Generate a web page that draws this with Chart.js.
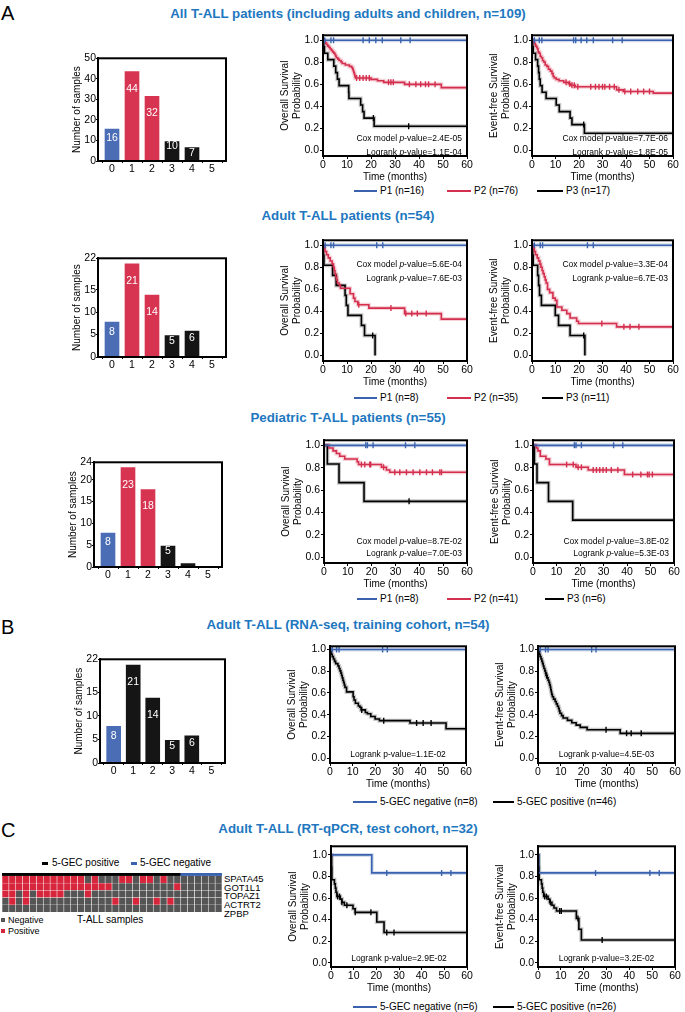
<!DOCTYPE html>
<html>
<head>
<meta charset="utf-8">
<script src="https://cdn.jsdelivr.net/npm/chart.js@4.4.1/dist/chart.umd.min.js"></script>
<style>
  body { margin: 0; background: #fff; }
  #fig { position: relative; width: 685px; height: 1012px; overflow: hidden; font-family: "Liberation Sans", Arial, sans-serif; color: #000; }
  .cv { position: absolute; }
  .ttl { position: absolute; left: 0; width: 696px; text-align: center; font-weight: bold; font-size: 13.3px; line-height: 16px; color: #1e77bf; }
  .letter { position: absolute; left: 1px; font-size: 20px; line-height: 22px; }
  .lg { position: absolute; font-size: 10px; line-height: 12px; white-space: nowrap; }
  .ln { position: absolute; height: 2px; }
  .sq { position: absolute; width: 4px; height: 4px; }
  .gene { position: absolute; left: 224px; font-size: 9.5px; line-height: 8.7px; white-space: nowrap; }
</style>
</head>
<body>
<div id="fig">
  <div class="letter" style="top:2px">A</div>
  <div class="letter" style="top:616px">B</div>
  <div class="letter" style="top:819px">C</div>
  <div class="ttl" style="top:6px">All T-ALL patients (including adults and children, n=109)</div>
  <div class="ttl" style="top:208px">Adult T-ALL patients (n=54)</div>
  <div class="ttl" style="top:410px">Pediatric T-ALL patients (n=55)</div>
  <div class="ttl" style="top:617px">Adult T-ALL (RNA-seq, training cohort, n=54)</div>
  <div class="ttl" style="top:821px">Adult T-ALL (RT-qPCR, test cohort, n=32)</div>
</div>
<script>
// ---- bar charts: number of samples per score ----
const scoreLabels = [0, 1, 2, 3, 4, 5];
const countsAll = [16, 44, 32, 10, 7, 0];
const countsAdult = [8, 21, 14, 5, 6, 0];
const countsPed = [8, 23, 18, 5, 1, 0];
const countsTrain = [8, 21, 14, 5, 6, 0];

const yTicksKM = [0, 0.2, 0.4, 0.6, 0.8, 1.0];

// ---- survival curves: [time (months), survival] ----
const allOsP1 = [[0, 1]];
const allOsP1Cens = [0.7, 3.3, 4.4, 16.7, 19.3, 22, 24.7, 32.4, 36.3];
const allOsP2 = [[0, 1], [0.5, 0.987], [1, 0.974], [1.5, 0.961], [2, 0.947], [2.5, 0.934], [3, 0.921], [3.5, 0.908], [4, 0.895], [4.5, 0.882], [5, 0.868], [5.3, 0.855], [5.6, 0.842], [6.2, 0.829], [6.7, 0.816], [7.5, 0.803], [8, 0.789], [9.3, 0.776], [11, 0.763], [12, 0.75], [12.4, 0.737], [12.6, 0.724], [12.8, 0.71], [13, 0.697], [13.2, 0.684], [13.3, 0.671], [13.5, 0.658], [20, 0.645], [22.7, 0.632], [25.3, 0.618], [34, 0.6], [49.3, 0.57]];
const allOsP2Cens = [14, 15.3, 16.7, 18, 19.3, 27.3, 28.3, 29.3, 36, 38.7, 40.7, 42.7, 44, 46.7];
const allOsP3 = [[0, 1], [0.3, 0.941], [0.6, 0.882], [2, 0.824], [4.5, 0.765], [5.3, 0.706], [6, 0.647], [6.7, 0.588], [10.7, 0.529], [10.8, 0.471], [15.7, 0.412], [16.5, 0.353], [17.1, 0.294], [21.3, 0.22]];
const allOsP3Cens = [21, 35.7];

const allEfsP1 = [[0, 1]];
const allEfsP1Cens = [1, 3.1, 4.2, 17.7, 18.6, 20.9, 23.3, 26.1, 34.3, 38.4];
const allEfsP2 = [[0, 1], [0.5, 0.987], [1, 0.974], [1.3, 0.961], [1.6, 0.947], [2, 0.934], [2.3, 0.921], [2.6, 0.895], [3, 0.882], [3.5, 0.855], [4, 0.842], [4.5, 0.816], [5, 0.803], [5.6, 0.776], [6.3, 0.763], [7, 0.737], [7.8, 0.72], [8.5, 0.697], [9, 0.671], [9.5, 0.658], [10.3, 0.645], [11.5, 0.632], [13.5, 0.618], [15.5, 0.605], [16.5, 0.592], [18.4, 0.578], [36, 0.55], [38.8, 0.535], [51.6, 0.52]];
const allEfsP2Cens = [14.5, 16, 17, 18, 19.5, 25, 27, 28.5, 30, 31, 33, 35, 37, 39.5, 42, 45, 47.5, 50];
const allEfsP3 = [[0, 1], [0.3, 0.941], [0.5, 0.882], [1.5, 0.824], [2.4, 0.765], [2.8, 0.706], [3.1, 0.647], [3.5, 0.588], [4.3, 0.529], [6, 0.471], [10.3, 0.412], [11.6, 0.353], [16.2, 0.294], [17, 0.235], [22.3, 0.157]];
const allEfsP3Cens = [22];

const adultOsP1 = [[0, 1]];
const adultOsP1Cens = [0.9, 3.3, 4.4, 22.4, 24.9];
const adultOsP2 = [[0, 1], [0.4, 0.971], [0.8, 0.943], [1.5, 0.914], [2.2, 0.886], [3, 0.857], [3.8, 0.829], [4.3, 0.8], [4.7, 0.771], [5, 0.743], [5.3, 0.714], [5.7, 0.686], [6, 0.657], [6.7, 0.64], [7.3, 0.61], [11.3, 0.56], [12.7, 0.52], [13.3, 0.49], [14.5, 0.46], [19.1, 0.43], [34, 0.38], [49.3, 0.33]];
const adultOsP2Cens = [14.9, 28.3, 34.5, 37, 39.3, 43];
const adultOsP3 = [[0, 1], [0.2, 0.909], [0.4, 0.818], [4, 0.727], [5.5, 0.636], [9.2, 0.545], [9.7, 0.455], [10.4, 0.364], [16, 0.273], [17.3, 0.182], [21.7, 0]];
const adultOsP3Cens = [20.7];

const adultEfsP1 = [[0, 1]];
const adultEfsP1Cens = [1, 3.5, 4.5, 23.6, 26.1];
const adultEfsP2 = [[0, 1], [0.5, 0.971], [1, 0.943], [1.5, 0.914], [2.2, 0.886], [2.8, 0.857], [3.4, 0.829], [3.8, 0.8], [4.3, 0.771], [4.7, 0.743], [5.2, 0.714], [5.6, 0.686], [6, 0.657], [6.6, 0.6], [7.5, 0.57], [8.9, 0.52], [9.9, 0.5], [10.6, 0.44], [12.7, 0.41], [14.8, 0.38], [16.2, 0.34], [19, 0.31], [19.8, 0.29], [36, 0.26]];
const adultEfsP2Cens = [29.7, 39.1, 41.7, 45.5];
const adultEfsP3 = [[0, 1], [0.3, 0.909], [0.5, 0.818], [2.4, 0.727], [2.8, 0.636], [3.2, 0.545], [4, 0.455], [9.9, 0.364], [11.3, 0.273], [16.2, 0.182], [22.5, 0]];
const adultEfsP3Cens = [22];

const pedOsP1 = [[0, 1]];
const pedOsP1Cens = [17.5, 18.2, 20.6, 34.2, 38.1];
const pedOsP2 = [[0, 1], [2.1, 0.976], [3.8, 0.951], [5.2, 0.927], [6.6, 0.902], [8.7, 0.878], [13.9, 0.853], [14.5, 0.829], [24.1, 0.805], [26.2, 0.78], [27.6, 0.76]];
const pedOsP2Cens = [15.7, 17.1, 19.2, 19.6, 25, 29.7, 31.8, 34.6, 37.4, 40.2, 43, 45.5, 48.6, 49.3];
const pedOsP3 = [[0, 1], [1.4, 0.833], [6.3, 0.667], [16.8, 0.5]];
const pedOsP3Cens = [35.7];

const pedEfsP1 = [[0, 1]];
const pedEfsP1Cens = [17.6, 18.3, 20.6, 34.3, 38.2];
const pedEfsP2 = [[0, 1], [1.4, 0.976], [2.1, 0.951], [3.1, 0.902], [5.5, 0.878], [7, 0.829], [18.3, 0.805], [23.5, 0.78], [38.9, 0.74]];
const pedEfsP2Cens = [14.3, 17.1, 19.2, 20.6, 25.6, 27, 28.4, 29.8, 31.2, 33.3, 36.1, 42.4, 45.9, 48.7, 49.4, 50.8];
const pedEfsP3 = [[0, 1], [0.6, 0.833], [1.7, 0.667], [6.6, 0.5], [16.9, 0.333]];
const pedEfsP3Cens = [];

const trainOsNeg = [[0, 1]];
const trainOsNegCens = [1, 2.9, 4, 23.2, 25.3];
const trainOsPos = [[0, 1], [0.3, 0.978], [0.6, 0.957], [1, 0.935], [1.5, 0.913], [2, 0.891], [2.5, 0.87], [3.5, 0.848], [4, 0.826], [4.4, 0.804], [4.8, 0.783], [5.1, 0.761], [5.4, 0.739], [5.7, 0.717], [6, 0.696], [6.3, 0.674], [6.6, 0.652], [7.3, 0.61], [10.2, 0.565], [10.6, 0.535], [11.2, 0.505], [12.5, 0.48], [13.2, 0.468], [13.7, 0.444], [15.6, 0.42], [16.5, 0.408], [18, 0.384], [19.9, 0.36], [21.8, 0.345], [35.3, 0.324], [51.2, 0.27]];
const trainOsPosCens = [14, 23.7, 38.2, 41.1, 44.6];

const trainEfsNeg = [[0, 1]];
const trainEfsNegCens = [1, 3.3, 4.4, 23.5, 25.4];
const trainEfsPos = [[0, 1], [0.3, 0.978], [0.6, 0.957], [0.9, 0.935], [1.3, 0.913], [1.7, 0.891], [2, 0.87], [2.3, 0.848], [2.6, 0.826], [3, 0.804], [3.3, 0.783], [3.5, 0.761], [4, 0.739], [4.4, 0.717], [4.8, 0.696], [5.1, 0.674], [5.4, 0.652], [5.6, 0.63], [5.8, 0.609], [6, 0.587], [6.3, 0.565], [6.8, 0.543], [7.5, 0.522], [8, 0.5], [8.5, 0.478], [9, 0.457], [9.3, 0.435], [9.6, 0.413], [10.3, 0.391], [11, 0.37], [12.9, 0.348], [14.8, 0.326], [16.7, 0.304], [18.5, 0.283], [21.5, 0.261], [36, 0.228]];
const trainEfsPosCens = [3.8, 29.8, 38.8, 40.8, 45.2];

const testOsNeg = [[0, 1], [18, 0.833]];
const testOsNegCens = [24.6, 48.8, 52.9];
const testOsPos = [[0, 1], [0.3, 0.885], [0.4, 0.769], [1.5, 0.731], [1.9, 0.692], [2.2, 0.654], [2.6, 0.615], [4.1, 0.59], [4.8, 0.56], [5.9, 0.533], [9.7, 0.5], [10.7, 0.467], [20.2, 0.377], [23.4, 0.28]];
const testOsPosCens = [2.9, 3.8, 4.8, 7, 10.7, 17.6, 24.6, 27.8];

const testEfsNeg = [[0, 1], [0.3, 0.833]];
const testEfsNegCens = [25.2, 49, 53.1];
const testEfsPos = [[0, 1], [0.3, 0.885], [0.5, 0.769], [1.5, 0.731], [1.8, 0.692], [2.1, 0.654], [2.5, 0.615], [4.4, 0.59], [5.1, 0.56], [6.1, 0.533], [7, 0.507], [8.1, 0.48], [16.8, 0.41], [17.9, 0.31], [19, 0.21]];
const testEfsPosCens = [2.9, 3.7, 5.4, 9.5, 10.2, 17.5, 28.1];

// ---- heatmap (RT-qPCR cohort): 1 = positive, 0 = negative ----
const geneNames = ['SPATA45', 'GOT1L1', 'TOPAZ1', 'ACTRT2', 'ZPBP'];
const hmSPATA45 = [1,1,1,1,1,1,1,1,1,1,1,1,0,1,0,0,0,1,1,0,1,1,0,1,0,0,0,0,0,0,0,0];
const hmGOT1L1  = [1,1,1,1,1,1,1,1,1,1,1,1,1,1,1,1,0,0,0,0,0,0,0,0,0,1,0,0,0,0,0,0];
const hmTOPAZ1  = [1,1,0,1,0,1,1,1,1,0,0,0,1,0,0,0,0,0,0,0,0,0,0,0,0,0,0,0,0,0,0,0];
const hmACTRT2  = [0,1,0,1,0,0,0,0,0,0,0,0,0,0,0,0,1,0,0,1,0,0,1,0,1,0,0,0,0,0,0,0];
const hmZPBP    = [0,0,0,0,0,0,0,0,0,0,0,0,0,0,0,0,0,0,0,0,0,0,0,0,0,0,0,0,0,0,0,0];
const sampleGroup = [1,1,1,1,1,1,1,1,1,1,1,1,1,1,1,1,1,1,1,1,1,1,1,1,1,1,0,0,0,0,0,0];

const legendP1 = ['P1 (n=16)', 'P2 (n=76)', 'P3 (n=17)'];
const legendP2 = ['P1 (n=8)', 'P2 (n=35)', 'P3 (n=11)'];
const legendP3 = ['P1 (n=8)', 'P2 (n=41)', 'P3 (n=6)'];
const legendB = ['5-GEC negative (n=8)', '5-GEC positive (n=46)'];
const legendC = ['5-GEC negative (n=6)', '5-GEC positive (n=26)'];

const FONT = '"Liberation Sans", Arial, sans-serif';
const BLUE = '#3a62ae', RED = '#d42f4e', BLACK = '#000000';
const BAR_BLUE = '#4a6db5', BAR_RED = '#d63451', BAR_BLACK = '#151515';
const HEAT_RED = '#d7263c', HEAT_GRAY = '#555555';
Chart.defaults.font.family = FONT;
Chart.defaults.color = '#000';

const fig = document.getElementById('fig');

function place(left, top, w, h) {
  const c = document.createElement('canvas');
  c.width = w; c.height = h;
  c.className = 'cv';
  c.style.left = left + 'px';
  c.style.top = top + 'px';
  c.style.width = w + 'px';
  c.style.height = h + 'px';
  fig.appendChild(c);
  return c.getContext('2d');
}

function addText(cls, left, top, text, extra) {
  const d = document.createElement('div');
  d.className = cls;
  d.style.left = left + 'px';
  d.style.top = top + 'px';
  if (extra) Object.assign(d.style, extra);
  d.textContent = text;
  fig.appendChild(d);
}

function addLine(left, top, w, color, h) {
  const d = document.createElement('div');
  d.className = 'ln';
  Object.assign(d.style, {left: left + 'px', top: top + 'px', width: w + 'px', background: color, height: (h || 2) + 'px'});
  fig.appendChild(d);
}

// legend row under a pair of survival plots
function legendRow(y, labels, colors, xs) {
  labels.forEach((t, i) => {
    addLine(xs[i][0], y - 1, xs[i][1] - xs[i][0], colors[i]);
    addText('lg', xs[i][1] + 3, y - 6, t);
  });
}

const framePlugin = {
  id: 'frame',
  afterDraw(chart) {
    const {ctx, chartArea: a} = chart;
    ctx.save();
    ctx.strokeStyle = '#000';
    ctx.lineWidth = 2;
    ctx.strokeRect(a.left, a.top, a.right - a.left, a.bottom - a.top);
    ctx.restore();
  }
};

function notesPlugin(notes) {
  return {
    id: 'notes',
    afterDraw(chart) {
      const {ctx, chartArea: a, scales} = chart;
      ctx.save();
      ctx.fillStyle = '#000';
      ctx.textBaseline = 'middle';
      notes.forEach(n => {
        const y = scales.y.getPixelForValue(n.y);
        const parts = n.italic ? [[n.pre, ''], ['p', 'italic '], [n.post, '']] : [[n.pre + 'p' + n.post, '']];
        const f = s => s + '8.5px ' + FONT;
        let w = 0;
        parts.forEach(p => { ctx.font = f(p[1]); w += ctx.measureText(p[0]).width; });
        let x = n.center ? (a.left + a.right) / 2 - w / 2 : a.right - 5 - w;
        parts.forEach(p => { ctx.font = f(p[1]); ctx.fillText(p[0], x, y); x += ctx.measureText(p[0]).width; });
      });
      ctx.restore();
    }
  };
}

function kmLine(pairs) {
  const pts = pairs.map(p => ({x: p[0], y: p[1]}));
  const last = pairs[pairs.length - 1];
  if (last[1] > 0 && last[0] < 60) pts.push({x: 60, y: last[1]});
  return pts;
}

function survAt(pairs, t) {
  let s = pairs[0][1];
  pairs.forEach(p => { if (p[0] <= t) s = p[1]; });
  return s;
}

function halo(hex) {
  const r = parseInt(hex.slice(1, 3), 16), g = parseInt(hex.slice(3, 5), 16), b = parseInt(hex.slice(5, 7), 16);
  return `rgba(${r},${g},${b},0.22)`;
}

function drawKM(box, yRange, yTitle, curves, notes) {
  const [L, T, R, B] = box;
  const left = L - 44, top = T - 4;
  const ctx = place(left, top, R - left + 9, B - top + 27);
  const datasets = [];
  curves.forEach(c => {
    const line = kmLine(c.pairs);
    // horizontal first, then the drop: Kaplan-Meier step
    datasets.push({data: line, borderColor: halo(c.color), borderWidth: 4, stepped: 'before', pointRadius: 0, order: 3});
    datasets.push({data: line, borderColor: c.color, borderWidth: 1.6, stepped: 'before', pointRadius: 0, order: 2});
    datasets.push({
      data: c.cens.map(t => ({x: t, y: survAt(c.pairs, t)})),
      showLine: false, pointStyle: 'line', pointRotation: 90, pointRadius: 3,
      pointBorderColor: c.color, pointBorderWidth: 1.4, order: 1
    });
  });
  new Chart(ctx, {
    type: 'line',
    data: {datasets},
    options: {
      responsive: false, animation: false, events: [],
      layout: {padding: {top: 4, right: 9, left: 0, bottom: 0}},
      plugins: {legend: {display: false}, tooltip: {enabled: false}},
      scales: {
        x: {
          type: 'linear', min: 0, max: 60,
          afterFit: s => { s.height = 27; },
          ticks: {stepSize: 10, font: {size: 10.5}, padding: 0, maxRotation: 0},
          grid: {drawOnChartArea: false, color: '#000', tickLength: 3},
          border: {color: '#000', width: 2},
          title: {display: true, text: 'Time (months)', font: {size: 10}, padding: 0}
        },
        y: {
          min: yRange[0], max: yRange[1],
          afterFit: s => { s.width = 44; },
          afterBuildTicks: s => { s.ticks = yTicksKM.map(v => ({value: v})); },
          ticks: {callback: v => v.toFixed(1), font: {size: 10.5}, padding: 1},
          grid: {drawOnChartArea: false, color: '#000', tickLength: 3},
          border: {color: '#000', width: 2},
          title: {display: true, text: [yTitle, 'Probability'], font: {size: 10, lineHeight: 1.2}, padding: 0}
        }
      }
    },
    plugins: [framePlugin, notesPlugin(notes)]
  });
}

const barLabelPlugin = {
  id: 'barLabels',
  afterDatasetsDraw(chart) {
    const {ctx} = chart;
    const meta = chart.getDatasetMeta(0);
    ctx.save();
    ctx.fillStyle = '#fff';
    ctx.font = '10.5px ' + FONT;
    ctx.textAlign = 'center';
    ctx.textBaseline = 'middle';
    meta.data.forEach((bar, i) => {
      const v = chart.data.datasets[0].data[i].y;
      if (v < 3) return;
      const h = bar.base - bar.y;
      ctx.fillText(String(v), bar.x, bar.y + Math.max(6, Math.min(h * 0.3, 18)));
    });
    ctx.restore();
  }
};

function drawBars(box, counts, colors, yMax, yStep) {
  const [L, T, R, B] = box;
  const left = L - 27, top = T - 6;
  const ctx = place(left, top, R - left + 4, B - top + 17);
  new Chart(ctx, {
    type: 'bar',
    data: {
      datasets: [{
        data: counts.map((v, i) => ({x: scoreLabels[i], y: v})),
        backgroundColor: colors, borderColor: 'rgba(255,255,255,0.55)', borderWidth: 1,
        barThickness: 16
      }]
    },
    options: {
      responsive: false, animation: false, events: [],
      layout: {padding: {top: 6, right: 4, left: 0, bottom: 0}},
      plugins: {legend: {display: false}, tooltip: {enabled: false}},
      scales: {
        x: {
          type: 'linear', min: -0.7, max: 5.7, offset: false,
          afterFit: s => { s.height = 17; },
          afterBuildTicks: s => { s.ticks = scoreLabels.map(v => ({value: v})); },
          ticks: {font: {size: 10.5}, padding: 0},
          grid: {drawOnChartArea: false, color: '#000', tickLength: 2},
          border: {color: '#000', width: 2}
        },
        y: {
          min: 0, max: yMax,
          afterFit: s => { s.width = 27; },
          ticks: {stepSize: yStep, font: {size: 10.5}, padding: 0},
          grid: {drawOnChartArea: false, color: '#000', tickLength: 2},
          border: {color: '#000', width: 2},
          title: {display: true, text: 'Number of samples', font: {size: 10}, padding: 0}
        }
      }
    },
    plugins: [framePlugin, barLabelPlugin]
  });
}

function drawHeatmap(box) {
  const [L, T, R, B] = box;
  const ctx = place(L, T - 1, R - L, B - T + 2);
  const rows = [hmZPBP, hmACTRT2, hmTOPAZ1, hmGOT1L1, hmSPATA45];
  const datasets = rows.map(r => ({
    data: r.map(() => 1),
    backgroundColor: r.map(v => v ? HEAT_RED : HEAT_GRAY),
    borderColor: 'rgba(255,255,255,0.12)', borderWidth: 0.6
  }));
  datasets.push({
    data: sampleGroup.map(() => 0.37),
    backgroundColor: sampleGroup.map(g => g ? BLACK : BLUE),
    borderWidth: 0
  });
  new Chart(ctx, {
    type: 'bar',
    data: {labels: sampleGroup.map((g, i) => 'S' + (i + 1)), datasets},
    options: {
      responsive: false, animation: false, events: [],
      layout: {padding: {top: 1, right: 0, left: 0, bottom: 1}},
      plugins: {legend: {display: false}, tooltip: {enabled: false}},
      datasets: {bar: {barPercentage: 1, categoryPercentage: 1}},
      scales: {
        x: {stacked: true, display: false},
        y: {stacked: true, min: 0, max: 5.37, display: false}
      }
    }
  });
  geneNames.forEach((g, i) => addText('gene', R + 2, 0, g, {top: (875 + i * 8.7) + 'px'}));
}

// ---- panel A: all patients ----
const colA1 = [BAR_BLUE, BAR_RED, BAR_RED, BAR_BLACK, BAR_BLACK, BAR_BLACK];
drawBars([98, 58, 226, 161], countsAll, colA1, 50, 10);
drawKM([323, 32, 467, 156], [-0.05, 1.045], 'Overall Survival', [
  {pairs: allOsP1, cens: allOsP1Cens, color: BLUE},
  {pairs: allOsP2, cens: allOsP2Cens, color: RED},
  {pairs: allOsP3, cens: allOsP3Cens, color: BLACK}
], [
  {pre: 'Cox model ', post: '-value=2.4E-05', y: 0.106, italic: true},
  {pre: 'Logrank ', post: '-value=1.1E-04', y: -0.02, italic: true}
]);
drawKM([532, 32, 673, 156], [-0.05, 1.045], 'Event-free Survival', [
  {pairs: allEfsP1, cens: allEfsP1Cens, color: BLUE},
  {pairs: allEfsP2, cens: allEfsP2Cens, color: RED},
  {pairs: allEfsP3, cens: allEfsP3Cens, color: BLACK}
], [
  {pre: 'Cox model ', post: '-value=7.7E-06', y: 0.106, italic: true},
  {pre: 'Logrank ', post: '-value=1.8E-05', y: -0.02, italic: true}
]);
legendRow(191, legendP1, [BLUE, RED, BLACK], [[354, 377], [447, 471], [537, 563]]);

// adults
drawBars([98, 258, 226, 357], countsAdult, colA1, 22, 5);
drawKM([323, 237, 467, 361], [-0.05, 1.045], 'Overall Survival', [
  {pairs: adultOsP1, cens: adultOsP1Cens, color: BLUE},
  {pairs: adultOsP2, cens: adultOsP2Cens, color: RED},
  {pairs: adultOsP3, cens: adultOsP3Cens, color: BLACK}
], [
  {pre: 'Cox model ', post: '-value=5.6E-04', y: 0.82, italic: true},
  {pre: 'Logrank ', post: '-value=7.6E-03', y: 0.70, italic: true}
]);
drawKM([532, 237, 673, 361], [-0.05, 1.045], 'Event-free Survival', [
  {pairs: adultEfsP1, cens: adultEfsP1Cens, color: BLUE},
  {pairs: adultEfsP2, cens: adultEfsP2Cens, color: RED},
  {pairs: adultEfsP3, cens: adultEfsP3Cens, color: BLACK}
], [
  {pre: 'Cox model ', post: '-value=3.3E-04', y: 0.82, italic: true},
  {pre: 'Logrank ', post: '-value=6.7E-03', y: 0.70, italic: true}
]);
legendRow(398, legendP2, [BLUE, RED, BLACK], [[354, 377], [447, 471], [542, 563]]);

// pediatric
drawBars([94, 462, 222, 567], countsPed, colA1, 24, 5);
drawKM([324, 437, 467, 563], [-0.05, 1.045], 'Overall Survival', [
  {pairs: pedOsP1, cens: pedOsP1Cens, color: BLUE},
  {pairs: pedOsP2, cens: pedOsP2Cens, color: RED},
  {pairs: pedOsP3, cens: pedOsP3Cens, color: BLACK}
], [
  {pre: 'Cox model ', post: '-value=8.7E-02', y: 0.14, italic: true},
  {pre: 'Logrank ', post: '-value=7.0E-03', y: 0.035, italic: true}
]);
drawKM([533, 437, 674, 563], [-0.05, 1.045], 'Event-free Survival', [
  {pairs: pedEfsP1, cens: pedEfsP1Cens, color: BLUE},
  {pairs: pedEfsP2, cens: pedEfsP2Cens, color: RED},
  {pairs: pedEfsP3, cens: pedEfsP3Cens, color: BLACK}
], [
  {pre: 'Cox model ', post: '-value=3.8E-02', y: 0.14, italic: true},
  {pre: 'Logrank ', post: '-value=5.3E-03', y: 0.035, italic: true}
]);
legendRow(599, legendP3, [BLUE, RED, BLACK], [[357, 377], [447, 471], [545, 564]]);

// ---- panel B: RNA-seq training cohort ----
const colB = [BAR_BLUE, BAR_BLACK, BAR_BLACK, BAR_BLACK, BAR_BLACK, BAR_BLACK];
drawBars([100, 659, 225, 763], countsTrain, colB, 22, 5);
drawKM([330, 643, 466, 763], [-0.045, 1.03], 'Overall Survival', [
  {pairs: trainOsNeg, cens: trainOsNegCens, color: BLUE},
  {pairs: trainOsPos, cens: trainOsPosCens, color: BLACK}
], [
  {pre: 'Logrank ', post: '-value=1.1E-02', y: 0.03, center: true}
]);
drawKM([538, 643, 675, 763], [-0.045, 1.03], 'Event-free Survival', [
  {pairs: trainEfsNeg, cens: trainEfsNegCens, color: BLUE},
  {pairs: trainEfsPos, cens: trainEfsPosCens, color: BLACK}
], [
  {pre: 'Logrank ', post: '-value=4.5E-03', y: 0.03, center: true}
]);
legendRow(802, legendB, [BLUE, BLACK], [[353, 377], [493, 514]]);

// ---- panel C: RT-qPCR test cohort ----
drawHeatmap([2, 873, 222, 912]);
addLine(42, 862, 6, BLACK, 3);
addText('lg', 52, 857, '5-GEC positive');
addLine(131, 862, 6, BLUE, 3);
addText('lg', 140, 857, '5-GEC negative');
const sq1 = document.createElement('div'); sq1.className = 'sq';
Object.assign(sq1.style, {left: '1px', top: '918px', background: HEAT_GRAY}); fig.appendChild(sq1);
const sq2 = document.createElement('div'); sq2.className = 'sq';
Object.assign(sq2.style, {left: '1px', top: '929px', background: HEAT_RED}); fig.appendChild(sq2);
addText('lg', 8, 914, 'Negative', {fontSize: '9px'});
addText('lg', 8, 925, 'Positive', {fontSize: '9px'});
addText('lg', 77, 914, 'T-ALL samples');

drawKM([331, 843, 467, 967], [-0.04, 1.08], 'Overall Survival', [
  {pairs: testOsNeg, cens: testOsNegCens, color: BLUE},
  {pairs: testOsPos, cens: testOsPosCens, color: BLACK}
], [
  {pre: 'Logrank ', post: '-value=2.9E-02', y: 0.04, center: true}
]);
drawKM([538, 843, 675, 967], [-0.04, 1.08], 'Event-free Survival', [
  {pairs: testEfsNeg, cens: testEfsNegCens, color: BLUE},
  {pairs: testEfsPos, cens: testEfsPosCens, color: BLACK}
], [
  {pre: 'Logrank ', post: '-value=3.2E-02', y: 0.04, center: true}
]);
legendRow(1007, legendC, [BLUE, BLACK], [[353, 377], [493, 514]]);
</script>
</body>
</html>
